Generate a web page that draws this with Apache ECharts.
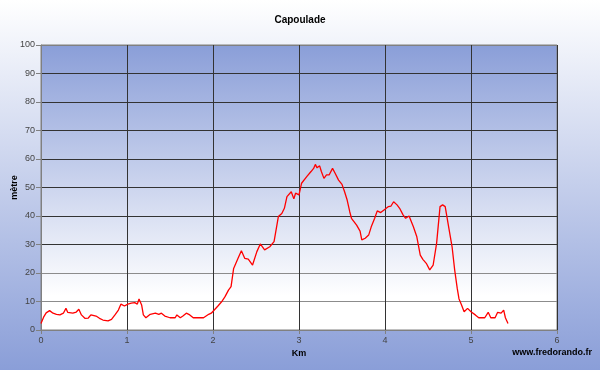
<!DOCTYPE html>
<html><head><meta charset="utf-8">
<script src="https://cdn.jsdelivr.net/npm/echarts@6/dist/echarts.min.js"></script>
<style>html,body{margin:0;padding:0;}#c{width:600px;height:370px;}</style>
</head><body><div id="c"></div>
<script>
var titleText = "Capoulade";
var xName = "Km";
var yName = "mètre";
var watermark = "www.fredorando.fr";
var km = [0.00,0.03,0.06,0.10,0.14,0.18,0.22,0.26,0.29,0.31,0.33,0.37,0.41,0.44,0.47,0.51,0.55,0.58,0.64,0.68,0.72,0.78,0.82,0.86,0.90,0.93,0.97,1.01,1.05,1.09,1.12,1.14,1.17,1.19,1.22,1.27,1.33,1.37,1.40,1.44,1.50,1.56,1.58,1.62,1.65,1.69,1.73,1.77,1.81,1.89,1.95,1.98,2.02,2.06,2.10,2.14,2.18,2.21,2.24,2.29,2.33,2.37,2.41,2.46,2.51,2.55,2.60,2.66,2.71,2.76,2.80,2.83,2.86,2.91,2.94,2.96,3.00,3.03,3.09,3.14,3.17,3.19,3.21,3.24,3.26,3.29,3.32,3.35,3.39,3.42,3.46,3.50,3.53,3.56,3.59,3.61,3.67,3.71,3.73,3.77,3.81,3.84,3.88,3.91,3.95,4.00,4.04,4.07,4.10,4.14,4.17,4.21,4.24,4.28,4.33,4.37,4.41,4.44,4.48,4.52,4.56,4.60,4.64,4.67,4.70,4.74,4.78,4.81,4.84,4.86,4.89,4.92,4.96,5.00,5.05,5.09,5.16,5.20,5.23,5.28,5.31,5.35,5.38,5.40,5.43];
var elevation = [2.3,4.5,6.0,6.8,5.9,5.5,5.3,5.9,7.6,6.2,6.8,5.9,6.3,7.3,5.3,4.1,4.2,5.3,4.9,4.1,3.5,3.2,3.7,5.3,7.0,9.1,8.4,9.1,9.4,9.6,9.1,10.9,8.8,5.3,4.3,5.5,5.9,5.5,5.9,4.9,4.3,4.3,5.3,4.3,4.9,5.9,5.3,4.3,4.3,4.3,5.5,5.9,7.2,8.5,9.9,11.7,14.0,15.2,21.6,25.1,27.8,25.1,24.9,22.8,27.5,30.2,28.1,29.2,31.0,39.8,40.9,42.7,46.8,48.5,46.0,48.0,47.4,51.5,53.8,55.6,56.7,58.1,56.9,57.6,55.6,53.2,54.4,54.4,56.7,55.0,52.6,51.1,48.5,45.6,41.5,39.2,36.8,34.7,31.6,32.2,33.3,36.2,39.2,41.8,41.2,42.4,43.3,43.5,45.0,43.9,42.7,40.4,39.2,40.0,36.2,32.7,26.3,24.8,23.4,21.1,22.8,30.4,43.3,43.9,43.3,36.2,29.2,21.1,14.6,11.0,8.8,6.4,7.6,6.4,5.3,4.3,4.3,6.2,4.3,4.3,6.2,5.9,7.0,4.3,2.3];

var pts = km.map(function(k,i){return [k, elevation[i]];});
var chart = echarts.init(document.getElementById('c'));
var font = 'Liberation Sans, Arial, sans-serif';
chart.setOption({
  backgroundColor: new echarts.graphic.LinearGradient(0,0,0,1,[{offset:0,color:'#ffffff'},{offset:1,color:'#8a9ed8'}]),
  animation:false,
  title:{text:titleText,left:'center',top:10,textStyle:{fontFamily:font,fontSize:10,fontWeight:'bold',color:'#000'}},
  grid:{left:41,right:43,top:45,bottom:40,outerBoundsMode:'none',containLabel:false,show:true,borderColor:'#808080',borderWidth:1,
    backgroundColor:new echarts.graphic.LinearGradient(0,0,0,1,[{offset:0,color:'#8a9ed8'},{offset:0.88,color:'#ffffff'},{offset:1,color:'#ffffff'}])},
  xAxis:{type:'value',min:0,max:6,interval:1,name:xName,nameLocation:'middle',nameGap:19,nameMoveOverlap:false,
    nameTextStyle:{fontFamily:font,fontSize:9,fontWeight:'bold',color:'#000'},
    axisLine:{show:true,lineStyle:{color:'#808080'}},axisTick:{show:true,length:4,lineStyle:{color:'#808080'}},
    axisLabel:{fontFamily:font,fontSize:9,color:'#444',margin:6},
    splitLine:{show:true,lineStyle:{color:'#333333',width:1}}},
  yAxis:{type:'value',min:0,max:100,interval:10,name:yName,nameLocation:'middle',nameGap:22,nameRotate:90,nameMoveOverlap:false,
    nameTextStyle:{fontFamily:font,fontSize:9,fontWeight:'bold',color:'#000'},
    axisLine:{show:true,lineStyle:{color:'#808080'}},axisTick:{show:true,length:5,lineStyle:{color:'#808080'}},
    axisLabel:{fontFamily:font,fontSize:9,color:'#444',margin:6},
    splitLine:{show:true,lineStyle:{color:['#8c8c8c','#8c8c8c','#8c8c8c','#333333','#333333','#333333','#333333','#333333','#333333','#333333','#808080'],width:1}}},
  graphic:[{type:'text',right:8,top:348,style:{text:watermark,font:'bold 9px Liberation Sans, Arial, sans-serif',fill:'#000'}}],
  series:[{type:'line',data:pts,showSymbol:false,lineStyle:{color:'#ff0000',width:1.3},z:3}]
});
</script></body></html>
